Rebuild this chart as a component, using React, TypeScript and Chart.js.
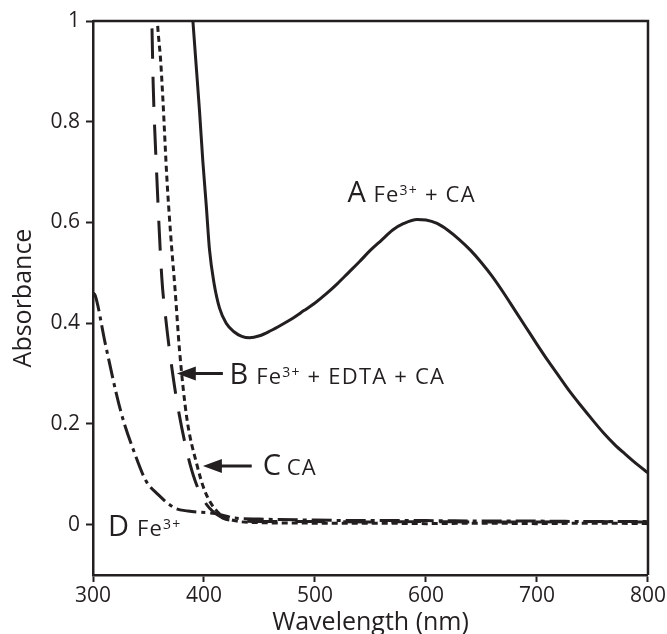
import React, { useEffect, useRef } from "react";
import { Chart, registerables } from "chart.js";

Chart.register(...registerables);

// ---- Data ----
const wavelengthA = [388, 390, 393, 396, 399, 402, 405, 409, 414, 420, 427, 434, 441, 450, 460, 470, 480, 490, 500, 510, 520, 530, 540, 550, 560, 570, 580, 592, 600, 610, 620, 630, 640, 650, 660, 670, 680, 690, 700, 710, 720, 730, 740, 750, 760, 770, 780, 790, 800];
const absorbanceA = [1.06, 1.0, 0.91, 0.82, 0.72, 0.635, 0.545, 0.48, 0.43, 0.4, 0.383, 0.374, 0.371, 0.375, 0.385, 0.397, 0.41, 0.425, 0.44, 0.458, 0.478, 0.5, 0.522, 0.545, 0.565, 0.585, 0.598, 0.606, 0.605, 0.598, 0.584, 0.566, 0.545, 0.52, 0.492, 0.46, 0.426, 0.392, 0.358, 0.325, 0.294, 0.263, 0.235, 0.208, 0.182, 0.159, 0.139, 0.12, 0.103];

const wavelengthB = [352, 353, 354.2, 357.5, 362, 365.5, 369, 375.5, 384.5, 392, 402, 417, 430, 450, 500, 550, 600, 650, 700, 750, 800];
const absorbanceB = [1.08, 1.0, 0.876, 0.69, 0.49, 0.41, 0.345, 0.246, 0.146, 0.087, 0.041, 0.013, 0.008, 0.006, 0.006, 0.005, 0.006, 0.005, 0.005, 0.006, 0.005];

const wavelengthC = [357, 358, 361, 363, 366.5, 370, 374, 378, 384.5, 393.5, 400.7, 411.5, 429.5, 450, 500, 550, 600, 650, 700, 750, 800];
const absorbanceC = [1.05, 1.0, 0.92, 0.843, 0.69, 0.575, 0.465, 0.345, 0.212, 0.12, 0.067, 0.027, 0.007, 0.004, 0.003, 0.003, 0.002, 0.003, 0.002, 0.003, 0.002];

const wavelengthD = [300, 302, 311, 325, 337.8, 347.7, 358.5, 373.7, 385.5, 410, 428, 450, 500, 550, 600, 650, 700, 750, 800];
const absorbanceD = [0.46, 0.455, 0.36, 0.225, 0.14, 0.087, 0.06, 0.033, 0.027, 0.022, 0.013, 0.011, 0.009, 0.008, 0.008, 0.007, 0.007, 0.006, 0.006];

const xTicks = [300, 400, 500, 600, 700, 800];
const yTicks = [0, 0.2, 0.4, 0.6, 0.8, 1];

const INK = "#231f20";
const FONT = "'Open Sans', 'Noto Sans', sans-serif";

const toPoints = (xs: number[], ys: number[]) => xs.map((x, i) => ({ x, y: ys[i] }));

function drawLetter(ctx: CanvasRenderingContext2D, x: number, y: number, letter: string) {
  ctx.save();
  ctx.fillStyle = INK;
  ctx.textBaseline = "alphabetic";
  ctx.textAlign = "left";
  ctx.font = `29px ${FONT}`;
  ctx.fillText(letter, x, y);
  ctx.restore();
}

function drawRich(ctx: CanvasRenderingContext2D, x: number, y: number, parts: { t: string; sup?: boolean }[]) {
  ctx.save();
  ctx.fillStyle = INK;
  ctx.textBaseline = "alphabetic";
  ctx.textAlign = "left";
  try { (ctx as any).letterSpacing = "1.2px"; } catch (e) { /* ignore */ }
  let cx = x;
  for (const p of parts) {
    if (p.sup) {
      ctx.font = `14px ${FONT}`;
      ctx.fillText(p.t, cx, y - 7);
    } else {
      ctx.font = `22px ${FONT}`;
      ctx.fillText(p.t, cx, y);
    }
    cx += ctx.measureText(p.t).width;
  }
  ctx.restore();
}

function drawArrow(ctx: CanvasRenderingContext2D, x1: number, y1: number, tipX: number, tipY: number) {
  ctx.save();
  ctx.strokeStyle = INK;
  ctx.fillStyle = INK;
  ctx.lineWidth = 3;
  ctx.beginPath();
  ctx.moveTo(x1, y1);
  ctx.lineTo(tipX + 12, tipY);
  ctx.stroke();
  ctx.beginPath();
  ctx.moveTo(tipX, tipY);
  ctx.lineTo(tipX + 19, tipY - 7);
  ctx.lineTo(tipX + 19, tipY + 7);
  ctx.closePath();
  ctx.fill();
  ctx.restore();
}

const annotationPlugin = {
  id: "annotations",
  afterDatasetsDraw(chart: any) {
    const { ctx, chartArea, scales } = chart;
    const X = (v: number) => scales.x.getPixelForValue(v);
    const Y = (v: number) => scales.y.getPixelForValue(v);
    // frame top & right
    ctx.save();
    ctx.strokeStyle = INK;
    ctx.lineWidth = 2.5;
    ctx.beginPath();
    ctx.moveTo(chartArea.left, chartArea.top);
    ctx.lineTo(chartArea.right, chartArea.top);
    ctx.lineTo(chartArea.right, chartArea.bottom);
    ctx.stroke();
    ctx.restore();

    const fe = [{ t: "Fe" }, { t: "3+", sup: true }];
    // A
    drawLetter(ctx, X(529.3), Y(0.64), "A");
    drawRich(ctx, X(552.7), Y(0.64), [...fe, { t: " + CA" }]);
    // B
    drawArrow(ctx, X(417), Y(0.3), X(375.5), Y(0.3));
    drawLetter(ctx, X(423), Y(0.28), "B");
    drawRich(ctx, X(447), Y(0.28), [...fe, { t: " + EDTA + CA" }]);
    // C
    drawArrow(ctx, X(443), Y(0.1164), X(399), Y(0.1164));
    drawLetter(ctx, X(453), Y(0.0985), "C");
    drawRich(ctx, X(474.5), Y(0.0985), [{ t: "CA" }]);
    // D
    drawLetter(ctx, X(313.5), Y(-0.023), "D");
    drawRich(ctx, X(339.6), Y(-0.023), fe);
  },
};

export default function App() {
  const ref = useRef<HTMLCanvasElement>(null);
  useEffect(() => {
    if (!ref.current) return;
    const common = { borderColor: INK, borderWidth: 3, pointRadius: 0, showLine: true, fill: false, cubicInterpolationMode: "monotone" as const };
    const chart = new Chart(ref.current, {
      type: "scatter",
      data: {
        datasets: [
          { ...common, label: "A", data: toPoints(wavelengthA, absorbanceA) },
          { ...common, label: "B", data: toPoints(wavelengthB, absorbanceB), borderDash: [30, 18] },
          { ...common, label: "C", data: toPoints(wavelengthC, absorbanceC), borderDash: [6, 4] },
          { ...common, label: "D", data: toPoints(wavelengthD, absorbanceD), borderDash: [20, 5, 4, 5] },
        ],
      },
      options: {
        animation: false,
        responsive: false,
        layout: { padding: { left: 0, right: 18, top: 21, bottom: 0 } },
        plugins: { legend: { display: false }, tooltip: { enabled: false } },
        scales: {
          x: {
            type: "linear",
            min: 300,
            max: 800,
            afterBuildTicks: (s: any) => { s.ticks = xTicks.map((v) => ({ value: v })); },
            afterFit: (s: any) => { s.height = 59; },
            ticks: { color: INK, font: { family: FONT, size: 21 }, padding: 1, maxRotation: 0 },
            grid: { drawOnChartArea: false, drawTicks: true, tickLength: 7, tickWidth: 2, color: INK },
            border: { display: true, color: INK, width: 2.5 },
            title: { display: true, text: "Wavelength (nm)", color: INK, font: { family: FONT, size: 25 }, padding: { top: 0, bottom: -4 } },
          },
          y: {
            type: "linear",
            min: -0.1,
            max: 1,
            afterBuildTicks: (s: any) => { s.ticks = yTicks.map((v) => ({ value: v })); },
            afterFit: (s: any) => { s.width = 93; },
            ticks: { color: INK, font: { family: FONT, size: 21 }, padding: 6, callback: (v: any) => String(Number(Number(v).toFixed(1))) },
            grid: { drawOnChartArea: false, drawTicks: true, tickLength: 7, tickWidth: 2, color: INK },
            border: { display: true, color: INK, width: 2.5 },
            title: { display: true, text: "Absorbance", color: INK, font: { family: FONT, size: 25 }, padding: { top: 9, bottom: 0 } },
          },
        },
      },
      plugins: [annotationPlugin],
    });
    return () => chart.destroy();
  }, []);
  return (
    <div style={{ position: "absolute", left: 0, top: 0, width: 667, height: 634, background: "#fff" }}>
      <canvas ref={ref} width={667} height={634} style={{ display: "block" }} />
    </div>
  );
}
